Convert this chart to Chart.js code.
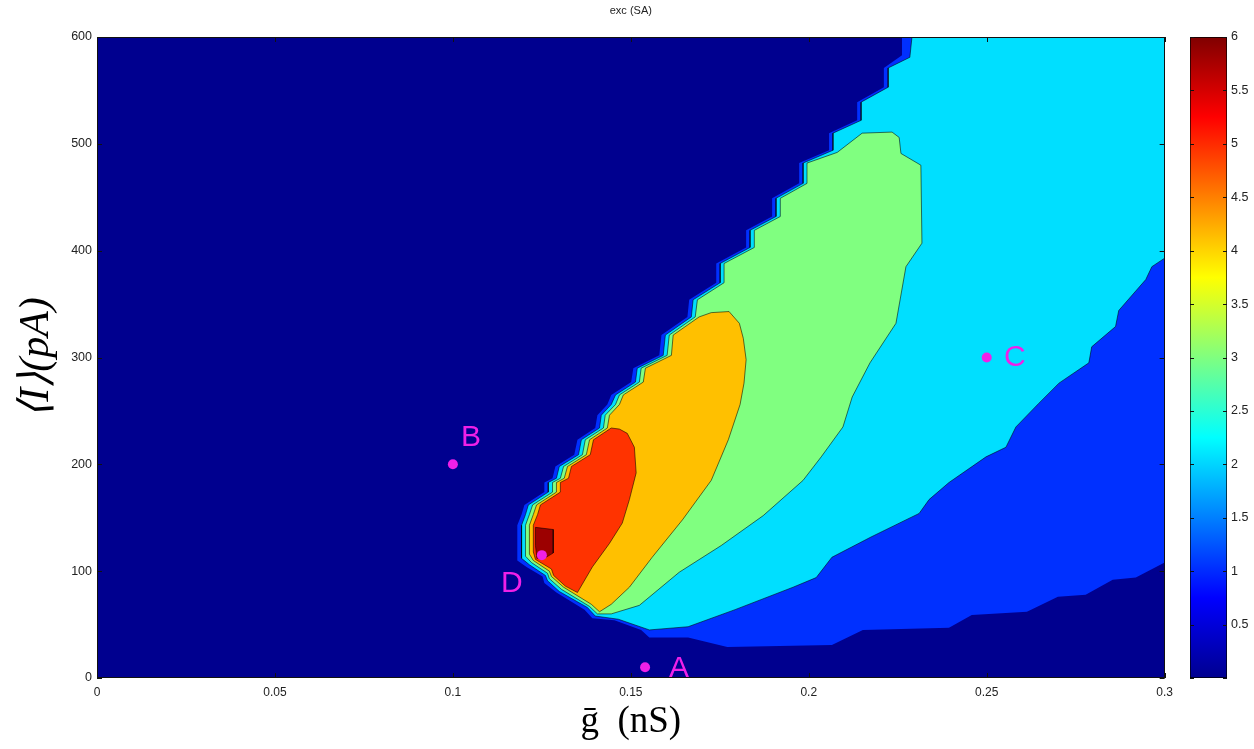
<!DOCTYPE html>
<html>
<head>
<meta charset="utf-8">
<script src="https://cdn.jsdelivr.net/npm/chart.js@4"></script>
<style>
  html, body { margin: 0; padding: 0; background: #fff; }
  #wrap { position: relative; width: 1254px; height: 749px; }
  #contour { position: absolute; left: 0; top: 0; }
  #cbar { position: absolute; left: 1180px; top: 0; }
</style>
</head>
<body>
<div id="wrap">
  <canvas id="contour" width="1180" height="749"></canvas>
  <canvas id="cbar" width="74" height="749"></canvas>
</div>
<script>
// contour levels, outlines as [g (nS), I (pA)]
const level0 = [[0, 0], [0.3, 0], [0.3, 600], [0, 600]];

const level1 = [
  [0.2262, 600], [0.2262, 583], [0.2211, 571], [0.2211, 553], [0.2136, 539], [0.2136, 522],
  [0.2057, 510], [0.2057, 494], [0.1973, 482], [0.1973, 463], [0.1897, 449], [0.1897, 432],
  [0.1824, 419], [0.1824, 403], [0.1740, 388], [0.1740, 370], [0.1664, 354], [0.1659, 338],
  [0.1586, 321], [0.1580, 302], [0.1507, 290], [0.1501, 277], [0.1445, 265], [0.1434, 256],
  [0.1406, 246], [0.1400, 234], [0.1350, 223], [0.1341, 209], [0.1288, 198], [0.1280, 187],
  [0.1257, 183], [0.1257, 174], [0.1201, 162], [0.1193, 153], [0.1181, 143], [0.1181, 110],
  [0.1207, 104], [0.1252, 95], [0.1257, 89], [0.1291, 80], [0.1370, 64], [0.1392, 56],
  [0.1454, 54], [0.1529, 45], [0.1552, 38], [0.1661, 38], [0.1771, 29], [0.2065, 31],
  [0.2152, 45], [0.2394, 47], [0.2458, 59], [0.2613, 62], [0.2700, 76], [0.2778, 78],
  [0.2854, 92], [0.2919, 94], [0.3000, 108], [0.3000, 600]
];

const level2 = [
  [0.2290, 600], [0.2284, 581], [0.2223, 571], [0.2223, 553], [0.2147, 539], [0.2147, 522],
  [0.2068, 510], [0.2068, 494], [0.1984, 482], [0.1984, 463], [0.1908, 449], [0.1908, 432],
  [0.1835, 419], [0.1835, 403], [0.1751, 388], [0.1751, 370], [0.1675, 354], [0.1670, 338],
  [0.1597, 321], [0.1591, 302], [0.1518, 290], [0.1513, 277], [0.1457, 265], [0.1445, 256],
  [0.1417, 246], [0.1412, 234], [0.1361, 223], [0.1353, 209], [0.1299, 198], [0.1291, 187],
  [0.1268, 183], [0.1268, 174], [0.1212, 162], [0.1204, 153], [0.1193, 143], [0.1193, 112],
  [0.1215, 106], [0.1260, 96], [0.1266, 91], [0.1299, 81], [0.1378, 66], [0.1400, 58],
  [0.1465, 55], [0.1552, 45], [0.1661, 48], [0.1793, 64], [0.1956, 85], [0.2021, 94],
  [0.2065, 113], [0.2175, 132], [0.2273, 148], [0.2310, 154], [0.2338, 167], [0.2394, 183],
  [0.2498, 207], [0.2554, 216], [0.2582, 235], [0.2646, 257], [0.2703, 276], [0.2787, 295],
  [0.2795, 310], [0.2862, 329], [0.2871, 344], [0.2947, 373], [0.2964, 385], [0.3000, 393],
  [0.3000, 600]
];

const level3 = [
  [0.2150, 510], [0.2234, 511], [0.2254, 506], [0.2259, 491], [0.2315, 480], [0.2318, 407],
  [0.2273, 385], [0.2245, 332], [0.2172, 295], [0.2122, 263], [0.2096, 235], [0.2035, 207],
  [0.1984, 185], [0.1872, 152], [0.1754, 124], [0.1636, 99], [0.1524, 68], [0.1445, 60],
  [0.1406, 60], [0.1384, 67], [0.1305, 83], [0.1271, 93], [0.1266, 98], [0.1221, 108],
  [0.1204, 114], [0.1204, 143], [0.1215, 153], [0.1224, 162], [0.1280, 174], [0.1280, 183],
  [0.1302, 187], [0.1311, 198], [0.1364, 209], [0.1372, 223], [0.1423, 234], [0.1428, 246],
  [0.1457, 256], [0.1468, 265], [0.1524, 277], [0.1529, 290], [0.1602, 302], [0.1608, 321],
  [0.1681, 338], [0.1687, 354], [0.1762, 370], [0.1762, 388], [0.1847, 403], [0.1847, 419],
  [0.1920, 432], [0.1920, 449], [0.1995, 463], [0.1995, 482], [0.2080, 492]
];

const level4 = [
  [0.1692, 338], [0.1726, 342], [0.1776, 343], [0.1805, 332], [0.1816, 318], [0.1824, 298],
  [0.1818, 276], [0.1807, 256], [0.1774, 223], [0.1726, 185], [0.1645, 148], [0.1560, 113],
  [0.1496, 85], [0.1445, 69], [0.1412, 62], [0.1389, 69], [0.1311, 85], [0.1277, 95],
  [0.1271, 100], [0.1226, 110], [0.1215, 116], [0.1215, 143], [0.1226, 153], [0.1235, 162],
  [0.1291, 174], [0.1291, 183], [0.1313, 187], [0.1322, 198], [0.1375, 209], [0.1384, 223],
  [0.1434, 234], [0.1440, 246], [0.1468, 256], [0.1479, 265], [0.1535, 277], [0.1541, 290],
  [0.1614, 302], [0.1619, 321]
];

const level5 = [
  [0.1445, 234], [0.1468, 233], [0.1490, 229], [0.1510, 216], [0.1515, 192], [0.1496, 167],
  [0.1476, 145], [0.1440, 126], [0.1392, 104], [0.1350, 80], [0.1316, 86], [0.1283, 96],
  [0.1277, 102], [0.1232, 111], [0.1226, 118], [0.1226, 143], [0.1238, 153], [0.1246, 162],
  [0.1302, 174], [0.1302, 183], [0.1325, 187], [0.1333, 198], [0.1386, 209], [0.1395, 223]
];

const level6 = [
  [0.1232, 141], [0.1282, 139], [0.1282, 117], [0.1257, 112], [0.1236, 112], [0.1232, 124]
];

const levelColors = ['#00008f', '#0030ff', '#00dfff', '#80ff80', '#ffc000', '#ff3300', '#9c0000'];

// marked operating points
const pointNames = ['A', 'B', 'C', 'D'];
const pointG = [0.154, 0.1, 0.25, 0.125];
const pointI = [10, 200, 300, 115];
const tagDx = [34, 18, 28, -30];
const tagDy = [1, -27, 0, 29];

const gTicks = [0, 0.05, 0.1, 0.15, 0.2, 0.25, 0.3];
const iTicks = [0, 100, 200, 300, 400, 500, 600];
const cbarTicks = [0, 0.5, 1, 1.5, 2, 2.5, 3, 3.5, 4, 4.5, 5, 5.5, 6];
const cbarRange = [0, 6];
const jetStops = [[0, '#00008f'], [0.125, '#0000ff'], [0.375, '#00ffff'], [0.625, '#ffff00'], [0.875, '#ff0000'], [1, '#800000']];

const sans = '"Liberation Sans", Arial, Helvetica, sans-serif';
const serif = '"Liberation Serif", "Times New Roman", serif';
const magenta = '#f020e8';

function polygon(points, color, order) {
  const pts = points.concat([points[0]]).map(([x, y]) => ({ x, y }));
  return {
    data: pts,
    backgroundColor: color,
    borderColor: order < 6 ? 'rgba(0,0,0,0.55)' : color,
    borderWidth: order < 6 ? 1 : 0,
    fill: 'shape',
    pointRadius: 0,
    tension: 0,
    order: order
  };
}

// inward tick marks + box, MATLAB style
const innerTicks = {
  id: 'innerTicks',
  afterDatasetsDraw(chart, args, opts) {
    const { ctx, chartArea: a, scales } = chart;
    const len = opts.length || 5;
    ctx.save();
    ctx.strokeStyle = '#111';
    ctx.lineWidth = 1;
    ctx.beginPath();
    if (scales.x && scales.x.options.display !== false) {
      scales.x.ticks.forEach(t => {
        const px = Math.round(scales.x.getPixelForValue(t.value)) + 0.5;
        ctx.moveTo(px, a.bottom); ctx.lineTo(px, a.bottom - len);
        ctx.moveTo(px, a.top); ctx.lineTo(px, a.top + len);
      });
    }
    scales.y.ticks.forEach(t => {
      const py = Math.round(scales.y.getPixelForValue(t.value)) + 0.5;
      ctx.moveTo(a.left, py); ctx.lineTo(a.left + len, py);
      ctx.moveTo(a.right, py); ctx.lineTo(a.right - len, py);
    });
    ctx.stroke();
    if (opts.box) {
      ctx.strokeRect(Math.round(a.left) + 0.5, Math.round(a.top) + 0.5, Math.round(a.width) - 1, Math.round(a.height) - 1);
    }
    ctx.restore();
  }
};

// letters next to the marked points
const pointTags = {
  id: 'pointTags',
  afterDatasetsDraw(chart) {
    const idx = chart.data.datasets.findIndex(d => d.label === 'points');
    const meta = chart.getDatasetMeta(idx);
    const { ctx } = chart;
    ctx.save();
    ctx.font = '30px ' + sans;
    ctx.fillStyle = magenta;
    ctx.textAlign = 'center';
    ctx.textBaseline = 'middle';
    meta.data.forEach((pt, i) => {
      ctx.fillText(pointNames[i], pt.x + tagDx[i], pt.y + tagDy[i]);
    });
    ctx.restore();
  }
};

const levels = [level0, level1, level2, level3, level4, level5, level6];
const datasets = levels.map((lv, i) => polygon(lv, levelColors[i], 7 - i));
datasets.push({
  label: 'points',
  data: pointG.map((g, i) => ({ x: g, y: pointI[i] })),
  showLine: false,
  pointRadius: 5,
  pointBorderWidth: 0,
  pointBackgroundColor: magenta,
  order: 0
});

new Chart(document.getElementById('contour'), {
  type: 'line',
  data: { datasets },
  plugins: [innerTicks, pointTags],
  options: {
    responsive: false,
    animation: false,
    devicePixelRatio: 1,
    events: [],
    layout: { padding: { left: 0, right: 14, top: 0, bottom: 0 } },
    plugins: {
      legend: { display: false },
      tooltip: { enabled: false },
      title: {
        display: true,
        text: 'exc (SA)',
        fullSize: false,
        color: '#222',
        font: { family: sans, size: 11, weight: 'normal' },
        padding: { top: 4.4, bottom: 19.4 }
      },
      innerTicks: { length: 5, box: true }
    },
    scales: {
      x: {
        type: 'linear',
        min: 0,
        max: 0.3,
        afterBuildTicks: s => { s.ticks = gTicks.map(v => ({ value: v })); },
        afterFit: s => { s.height = 71; },
        grid: { display: false, drawTicks: false },
        border: { display: false },
        ticks: {
          padding: 7,
          color: '#222',
          maxRotation: 0,
          font: { family: sans, size: 12 },
          callback: v => String(+v.toFixed(2))
        },
        title: {
          display: true,
          text: 'ḡ  (nS)',
          color: '#000',
          font: { family: serif, size: 37 },
          padding: { top: 0, bottom: 5 }
        }
      },
      y: {
        type: 'linear',
        min: 0,
        max: 600,
        afterBuildTicks: s => { s.ticks = iTicks.map(v => ({ value: v })); },
        afterFit: s => { s.width = 97; },
        grid: { display: false, drawTicks: false },
        border: { display: false },
        ticks: {
          padding: 5,
          color: '#222',
          font: { family: sans, size: 12.5 }
        },
        title: {
          display: true,
          text: '⟨I⟩(pA)',
          color: '#000',
          font: { family: serif, size: 42, style: 'italic' },
          padding: { top: 12, bottom: 0 }
        }
      }
    }
  }
});

// colour bar
function jetGradient(chart) {
  const a = chart.chartArea;
  if (!a) return levelColors[0];
  const g = chart.ctx.createLinearGradient(0, a.bottom, 0, a.top);
  jetStops.forEach(([p, c]) => g.addColorStop(p, c));
  return g;
}

new Chart(document.getElementById('cbar'), {
  type: 'bar',
  data: {
    labels: [''],
    datasets: [{
      data: [cbarRange],
      backgroundColor: c => jetGradient(c.chart),
      borderColor: '#000',
      borderWidth: 1,
      borderSkipped: false,
      barPercentage: 1,
      categoryPercentage: 1
    }]
  },
  plugins: [innerTicks],
  options: {
    responsive: false,
    animation: false,
    devicePixelRatio: 1,
    events: [],
    layout: { padding: { left: 10, right: 0, top: 37, bottom: 71 } },
    plugins: {
      legend: { display: false },
      tooltip: { enabled: false },
      innerTicks: { length: 4, box: false }
    },
    scales: {
      x: { display: false },
      y: {
        position: 'right',
        min: cbarRange[0],
        max: cbarRange[1],
        afterBuildTicks: s => { s.ticks = cbarTicks.map(v => ({ value: v })); },
        afterFit: s => { s.width = 27; },
        grid: { display: false, drawTicks: false },
        border: { display: false },
        ticks: {
          padding: 4,
          color: '#222',
          font: { family: sans, size: 12.5 },
          callback: v => (v === 0 ? '' : String(v))
        }
      }
    }
  }
});
</script>
</body>
</html>
